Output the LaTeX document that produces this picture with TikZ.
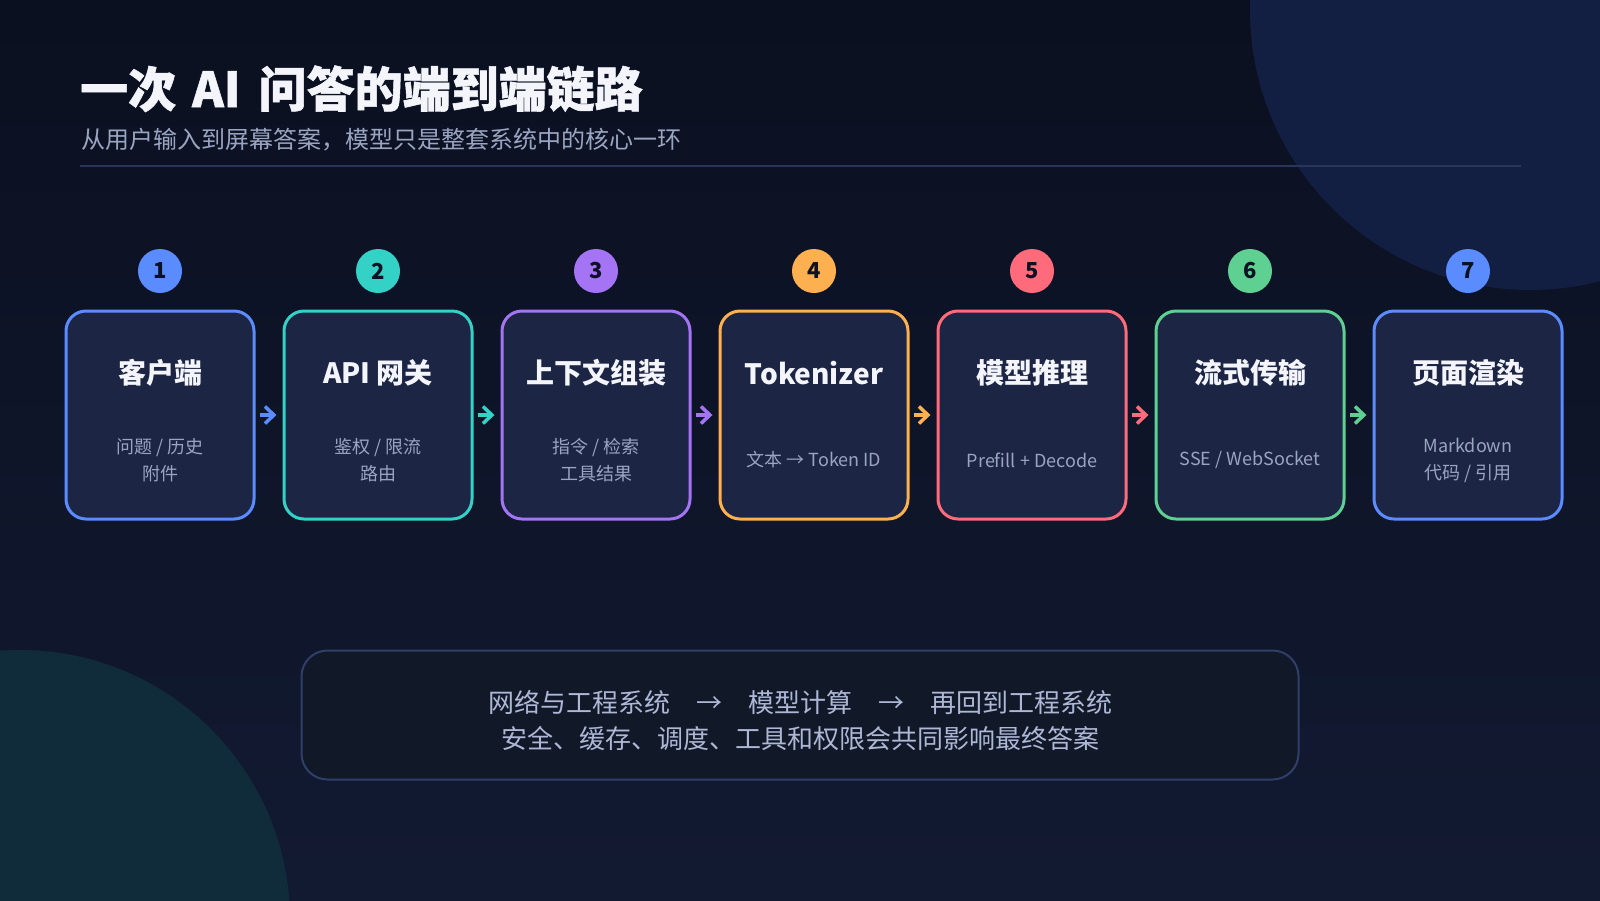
\documentclass[tikz,border=0pt]{standalone}
\usepackage{fontspec}
\setmainfont{Noto Sans CJK SC}
\usetikzlibrary{arrows.meta}

\definecolor{sfondoA}{HTML}{0B1020}
\definecolor{sfondoB}{HTML}{121A32}
\definecolor{cerchioA}{HTML}{121F42}
\definecolor{cerchioB}{HTML}{102B3A}
\definecolor{riga}{HTML}{2A3659}
\definecolor{riempi}{HTML}{1C2543}
\definecolor{blu}{HTML}{5B8CFF}
\definecolor{teal}{HTML}{33D1C6}
\definecolor{viola}{HTML}{A474F5}
\definecolor{arancio}{HTML}{FDB04F}
\definecolor{rosso}{HTML}{FF6B7A}
\definecolor{verde}{HTML}{5ED092}
\definecolor{bianco}{HTML}{F3F5FB}
\definecolor{grigio}{HTML}{9AA5C2}
\definecolor{scuro}{HTML}{0C1222}
\definecolor{bordo}{HTML}{2F3F68}
\definecolor{pannello}{HTML}{111828}
\definecolor{nota}{HTML}{AEB8D6}

\tikzset{
  scatola/.style={draw, line width=3pt, rounded corners=20pt, fill=riempi,
    minimum width=188pt, minimum height=208pt, inner sep=0pt},
  numero/.style={circle, minimum size=44pt, inner sep=0pt, text=scuro,
    font=\fontsize{22}{22}\selectfont\bfseries},
  titolo/.style={text=bianco, font=\fontsize{28}{34}\selectfont\bfseries},
  dettaglio/.style={text=grigio, align=center, font=\fontsize{18}{27}\selectfont},
  freccia/.style={line width=3.5pt, shorten <=4pt, shorten >=6pt,
    -{Straight Barb[length=9pt, width=17pt]}},
}

\begin{document}
\begin{tikzpicture}[x=1pt, y=-1pt]
    % Sfondo
    \fill[top color=sfondoA, bottom color=sfondoB] (0,0) rectangle (1600,900);
    \useasboundingbox (0,0) rectangle (1600,900);
    \begin{scope}
        \clip (0,0) rectangle (1600,900);
        \fill[cerchioA] (1530,10) circle (280);
        \fill[cerchioB] (20,920) circle (270);
    \end{scope}

    % Titolo
    \node[anchor=base west, inner sep=0pt, text=bianco, font=\fontsize{48}{54}\selectfont\bfseries\addfontfeatures{FakeBold=1.2}] (titolo) at (80,107) {一次\hspace{16pt}AI\hspace{18pt}问答的端到端链路};
    \node[anchor=base west, inner sep=0pt, text=grigio, font=\fontsize{24}{28}\selectfont] (sotto) at (81,148) {从用户输入到屏幕答案，模型只是整套系统中的核心一环};
    \draw[riga, line width=2pt] (80,166) -- (1521,166);

    % Scatole
    \node[scatola, draw=blu] (b1) at (160,415) {};
    \node[scatola, draw=teal] (b2) at (378,415) {};
    \node[scatola, draw=viola] (b3) at (596,415) {};
    \node[scatola, draw=arancio] (b4) at (814,415) {};
    \node[scatola, draw=rosso] (b5) at (1032,415) {};
    \node[scatola, draw=verde] (b6) at (1250,415) {};
    \node[scatola, draw=blu] (b7) at (1468,415) {};

    % Numeri
    \node[numero, fill=blu] (n1) at (160,271) {1};
    \node[numero, fill=teal] (n2) at (378,271) {2};
    \node[numero, fill=viola] (n3) at (596,271) {3};
    \node[numero, fill=arancio] (n4) at (814,271) {4};
    \node[numero, fill=rosso] (n5) at (1032,271) {5};
    \node[numero, fill=verde] (n6) at (1250,271) {6};
    \node[numero, fill=blu] (n7) at (1468,271) {7};

    % Testi
    \node[titolo] (t1) at (160,373) {客户端};
    \node[dettaglio] (s1) at (160,460) {问题 / 历史\\附件};
    \node[titolo] (t2) at (378,373) {API 网关};
    \node[dettaglio] (s2) at (378,460) {鉴权 / 限流\\路由};
    \node[titolo] (t3) at (596,373) {上下文组装};
    \node[dettaglio] (s3) at (596,460) {指令 / 检索\\工具结果};
    \node[titolo] (t4) at (814,373) {Tokenizer};
    \node[dettaglio] (s4) at (814,460) {文本 → Token ID};
    \node[titolo] (t5) at (1032,373) {模型推理};
    \node[dettaglio] (s5) at (1032,460) {Prefill + Decode};
    \node[titolo] (t6) at (1250,373) {流式传输};
    \node[dettaglio] (s6) at (1250,460) {SSE / WebSocket};
    \node[titolo] (t7) at (1468,373) {页面渲染};
    \node[dettaglio] (s7) at (1468,460) {Markdown\\代码 / 引用};

    % Frecce
    \draw[freccia, blu] (b1.east) -- (b2.west);
    \draw[freccia, teal] (b2.east) -- (b3.west);
    \draw[freccia, viola] (b3.east) -- (b4.west);
    \draw[freccia, arancio] (b4.east) -- (b5.west);
    \draw[freccia, rosso] (b5.east) -- (b6.west);
    \draw[freccia, verde] (b6.east) -- (b7.west);

    % Riquadro finale
    \node[draw=bordo, line width=2pt, fill=pannello, rounded corners=26pt, minimum width=997pt, minimum height=129pt] (cornice) at (800,715) {};
    \node[align=center, text=nota, font=\fontsize{26}{36}\selectfont] (nota) at (800,721) {网络与工程系统\hspace{1em}→\hspace{1em}模型计算\hspace{1em}→\hspace{1em}再回到工程系统\\安全、缓存、调度、工具和权限会共同影响最终答案};
\end{tikzpicture}
\end{document}
